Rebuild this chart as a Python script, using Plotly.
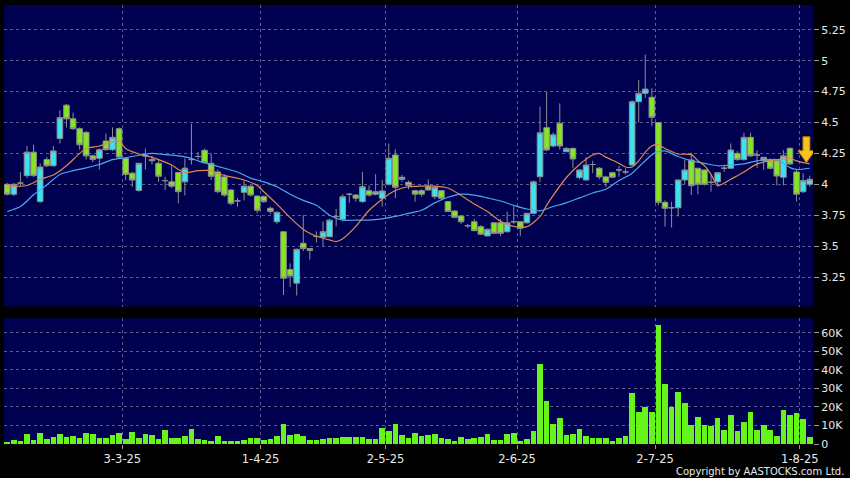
import pandas as pd
import plotly.graph_objects as go

# ---------------- data ----------------
holidays = ['2025-04-04', '2025-04-18', '2025-04-21', '2025-05-01', '2025-05-05', '2025-07-01']
dates = pd.bdate_range('2025-02-05', '2025-08-04', freq='C', holidays=holidays)

open_ = [4.00, 3.92, 4.01, 4.07, 4.26, 3.86, 4.20, 4.15, 4.37, 4.64,
         4.53, 4.45, 4.42, 4.23, 4.21, 4.35, 4.28, 4.45, 4.21, 4.09,
         3.95, 4.23, 4.19, 4.17, 4.03, 4.02, 4.095, 4.02, 4.20, 4.225,
         4.275, 4.17, 4.10, 4.06, 3.954, 3.866, 3.935, 3.985, 3.905, 3.90,
         3.806, 3.697, 3.616, 3.31, 3.20, 3.523, 3.48, 3.578, 3.571, 3.576,
         3.74, 3.717, 3.919, 3.913, 3.86, 3.948, 3.92, 3.887, 4.00, 4.237,
         4.04, 4.016, 3.948, 3.948, 3.98, 3.90, 3.948, 3.86, 3.784, 3.744,
         3.665, 3.697, 3.657, 3.582, 3.689, 3.689, 3.616, 3.697, 3.697, 3.689,
         3.765, 4.061, 4.458, 4.31, 4.493, 4.264, 4.29, 4.054, 4.035, 4.16,
         4.13, 4.06, 4.094, 4.116, 4.10, 4.156, 4.668, 4.736, 4.704, 4.50,
         3.854, 3.81, 3.81, 4.035, 4.197, 4.13, 4.116, 4.016, 4.02, 4.13,
         4.13, 4.25, 4.20, 4.38, 4.237, 4.191, 4.20, 4.19, 4.057, 4.291,
         4.10, 3.94, 4.00]
close = [3.92, 4.00, 4.01, 4.26, 4.07, 4.14, 4.15, 4.27, 4.54, 4.53,
         4.45, 4.32, 4.23, 4.20, 4.28, 4.28, 4.38, 4.22, 4.08, 4.035,
         4.17, 4.23, 4.20, 4.065, 4.03, 3.985, 3.94, 4.13, 4.20, 4.225,
         4.175, 4.065, 3.94, 3.913, 3.846, 3.866, 3.985, 3.913, 3.79, 3.86,
         3.78, 3.773, 3.24, 3.258, 3.474, 3.48, 3.465, 3.578, 3.616, 3.71,
         3.74, 3.90, 3.919, 3.887, 3.98, 3.913, 3.94, 3.946, 4.21, 3.976,
         4.057, 3.99, 3.92, 3.92, 3.954, 3.976, 3.887, 3.78, 3.733, 3.697,
         3.665, 3.625, 3.596, 3.636, 3.603, 3.603, 3.689, 3.697, 3.644, 3.765,
         4.02, 4.417, 4.278, 4.40, 4.31, 4.29, 4.205, 4.116, 4.156, 4.16,
         4.06, 4.016, 4.057, 4.116, 4.10, 4.668, 4.736, 4.77, 4.542, 3.854,
         3.806, 3.81, 4.035, 4.116, 3.989, 4.00, 4.00, 4.016, 4.094, 4.13,
         4.277, 4.20, 4.38, 4.23, 4.237, 4.218, 4.13, 4.067, 4.23, 4.164,
         3.92, 4.03, 4.04]
high = [4.01, 4.01, 4.10, 4.31, 4.32, 4.17, 4.22, 4.31, 4.60, 4.65,
        4.58, 4.46, 4.43, 4.24, 4.29, 4.41, 4.46, 4.46, 4.22, 4.10,
        4.17, 4.29, 4.23, 4.20, 4.06, 4.155, 4.10, 4.21, 4.49, 4.26,
        4.29, 4.25, 4.12, 4.08, 3.96, 3.89, 4.03, 3.99, 3.91, 3.91,
        3.82, 3.78, 3.62, 3.36, 3.48, 3.75, 3.48, 3.62, 3.70, 3.72,
        3.80, 3.92, 3.93, 3.92, 4.10, 3.99, 4.083, 4.035, 4.33, 4.283,
        4.075, 4.03, 3.955, 3.96, 4.04, 3.98, 3.95, 3.86, 3.79, 3.75,
        3.68, 3.72, 3.67, 3.64, 3.69, 3.72, 3.78, 3.82, 3.70, 3.77,
        4.03, 4.628, 4.749, 4.42, 4.655, 4.30, 4.30, 4.12, 4.22, 4.19,
        4.14, 4.07, 4.10, 4.15, 4.13, 4.68, 4.844, 5.05, 4.777, 4.50,
        3.87, 3.86, 4.04, 4.20, 4.256, 4.13, 4.12, 4.08, 4.095, 4.16,
        4.33, 4.27, 4.417, 4.417, 4.277, 4.22, 4.21, 4.19, 4.277, 4.30,
        4.12, 4.09, 4.07]
low = [3.91, 3.905, 3.985, 4.05, 4.06, 3.85, 4.14, 4.14, 4.33, 4.46,
       4.44, 4.28, 4.20, 4.18, 4.12, 4.27, 4.27, 4.21, 4.035, 3.98,
       3.94, 4.12, 4.16, 4.02, 3.955, 3.97, 3.846, 3.91, 4.16, 4.20,
       4.17, 4.035, 3.93, 3.90, 3.83, 3.82, 3.87, 3.90, 3.765, 3.85,
       3.76, 3.68, 3.104, 3.17, 3.10, 3.46, 3.39, 3.53, 3.50, 3.57,
       3.66, 3.70, 3.85, 3.86, 3.85, 3.90, 3.91, 3.82, 3.99, 3.887,
       4.02, 3.96, 3.86, 3.90, 3.95, 3.88, 3.87, 3.78, 3.725, 3.68,
       3.645, 3.62, 3.59, 3.58, 3.60, 3.58, 3.61, 3.68, 3.58, 3.68,
       3.76, 4.02, 4.27, 4.30, 4.28, 4.26, 4.13, 4.04, 4.03, 4.09,
       4.04, 3.98, 4.05, 4.06, 4.08, 4.15, 4.50, 4.70, 4.47, 3.83,
       3.657, 3.65, 3.74, 4.00, 3.913, 3.92, 3.99, 3.94, 3.98, 4.10,
       4.13, 4.19, 4.19, 4.22, 4.13, 4.116, 4.12, 3.99, 3.99, 4.16,
       3.86, 3.93, 3.98]
volume_k = [1.0, 1.9, 1.3, 5.1, 1.9, 5.5, 2.3, 3.7, 5.1, 3.7,
            4.0, 3.1, 5.7, 5.0, 3.3, 3.3, 4.6, 6.0, 2.3, 6.2,
            2.8, 5.1, 4.6, 2.3, 7.3, 3.3, 3.3, 4.0, 7.8, 2.4,
            1.9, 1.2, 3.9, 1.7, 1.3, 1.3, 1.9, 3.1, 3.3, 1.9,
            2.4, 3.9, 10.5, 4.6, 5.3, 3.9, 2.1, 2.1, 2.6, 3.3,
            3.3, 3.7, 3.7, 3.5, 3.5, 2.6, 2.6, 8.5, 6.9, 10.5,
            4.6, 3.1, 5.5, 4.0, 4.6, 5.1, 3.1, 2.6, 1.5, 3.7,
            2.4, 3.0, 3.7, 5.0, 1.9, 1.9, 5.3, 5.8, 1.5, 2.3,
            6.7, 42.9, 23.1, 10.5, 13.6, 4.6, 5.1, 8.0, 4.2, 3.3,
            3.3, 3.1, 1.7, 3.1, 4.0, 27.1, 17.0, 19.8, 17.3, 63.9,
            32.4, 19.8, 27.8, 21.7, 10.1, 14.4, 10.0, 9.4, 13.7, 7.6,
            15.4, 6.9, 11.8, 17.0, 7.6, 10.1, 7.6, 4.2, 18.4, 15.7,
            16.6, 13.4, 3.7]

# moving-average lines (candle index, price)
ma_short_idx = [0, 3, 5, 7, 9, 11, 12, 14, 16, 17, 18, 20, 22, 23, 25, 26, 27, 29, 31, 32,
                34, 36, 38, 39, 41, 43, 45, 47, 49, 50, 51, 53, 55, 57, 58, 59, 61, 63, 65, 67,
                69, 71, 73, 75, 77, 79, 81, 82, 83, 85, 87, 89, 90, 91, 93, 94, 95, 96, 97, 98,
                99, 100, 102, 104, 105, 106, 107, 108, 109, 110, 112, 114, 116, 118, 119, 120, 122]
ma_short_val = [3.98, 3.99, 4.04, 4.075, 4.15, 4.25, 4.29, 4.31, 4.345, 4.35, 4.29, 4.245, 4.218, 4.20, 4.156, 4.12, 4.095, 4.11, 4.11, 4.085,
                4.06, 4.035, 3.99, 3.94, 3.84, 3.73, 3.635, 3.58, 3.55, 3.537, 3.56, 3.66, 3.79, 3.88, 3.92, 3.95, 3.98, 3.986, 3.986, 3.97,
                3.91, 3.84, 3.78, 3.70, 3.66, 3.657, 3.74, 3.83, 3.91, 4.055, 4.16, 4.237, 4.25, 4.22, 4.17, 4.14, 4.14, 4.19, 4.26, 4.31,
                4.32, 4.29, 4.245, 4.24, 4.19, 4.15, 4.08, 3.99, 4.01, 4.04, 4.10, 4.165, 4.19, 4.205, 4.21, 4.19, 4.165]
ma_long_idx = [0, 2, 4, 6, 8, 10, 12, 14, 16, 18, 20, 22, 24, 26, 28, 29, 31, 33, 35, 37,
               39, 41, 43, 45, 47, 49, 51, 53, 55, 57, 59, 61, 63, 65, 67, 69, 71, 73, 75, 77,
               79, 81, 83, 85, 87, 89, 91, 93, 95, 96, 97, 98, 99, 100, 102, 104, 106, 108, 110, 112,
               114, 116, 117, 118, 119, 120, 122]
ma_long_val = [3.78, 3.82, 3.915, 3.995, 4.08, 4.11, 4.133, 4.16, 4.20, 4.215, 4.235, 4.25, 4.24, 4.23, 4.21, 4.19, 4.16, 4.13, 4.10, 4.05,
               4.02, 3.98, 3.92, 3.87, 3.83, 3.75, 3.71, 3.71, 3.71, 3.72, 3.74, 3.765, 3.79, 3.85, 3.895, 3.92, 3.913, 3.89, 3.865, 3.83,
               3.80, 3.785, 3.82, 3.85, 3.89, 3.93, 3.96, 4.03, 4.09, 4.14, 4.19, 4.24, 4.265, 4.27, 4.225, 4.19, 4.17, 4.15, 4.155, 4.165,
               4.19, 4.20, 4.20, 4.17, 4.135, 4.12, 4.13]

tick_dates = ['2025-03-03', '2025-04-01', '2025-05-02', '2025-06-02', '2025-07-02', '2025-08-01']
tick_text = ['3-3-25', '1-4-25', '2-5-25', '2-6-25', '2-7-25', '1-8-25']
price_ticks = [3.25, 3.5, 3.75, 4.0, 4.25, 4.5, 4.75, 5.0, 5.25]
price_tick_text = ['3.25', '3.5', '3.75', '4', '4.25', '4.5', '4.75', '5', '5.25']
vol_ticks = [0, 10000, 20000, 30000, 40000, 50000, 60000]
vol_tick_text = ['0', '10K', '20K', '30K', '40K', '50K', '60K']

# ---------------- styling ----------------
BG = '#000000'
PLOT_BG = '#000050'
GRID = '#5c5c8e'
UP = '#3ce2f0'
DOWN = '#84e622'
WICK = '#8e8e8e'
VOL = '#66f51a'
MA_S = '#e0884e'
MA_L = '#4aa8f0'
TXT = '#e8e8e8'
FONT = 'DejaVu Sans'

idx = list(range(len(dates)))
pos = {d: i for i, d in enumerate(dates.strftime('%Y-%m-%d'))}
grid_x = [pos[d] - 0.5 for d in tick_dates]

fig = go.Figure()
fig.add_trace(go.Candlestick(
    x=idx, open=open_, high=high, low=low, close=close,
    increasing=dict(fillcolor=UP, line=dict(color=WICK, width=1)),
    decreasing=dict(fillcolor=DOWN, line=dict(color=WICK, width=1)),
    xaxis='x', yaxis='y', hoverinfo='skip'))
fig.add_trace(go.Scatter(x=ma_long_idx, y=ma_long_val, mode='lines',
                         line=dict(color=MA_L, width=1.2, shape='spline', smoothing=0.7),
                         xaxis='x', yaxis='y', hoverinfo='skip'))
fig.add_trace(go.Scatter(x=ma_short_idx, y=ma_short_val, mode='lines',
                         line=dict(color=MA_S, width=1.2, shape='spline', smoothing=0.7),
                         xaxis='x', yaxis='y', hoverinfo='skip'))
fig.add_trace(go.Bar(x=idx, y=[v * 1000 for v in volume_k], width=0.86,
                     marker=dict(color=VOL, line=dict(width=0)),
                     xaxis='x2', yaxis='y2', hoverinfo='skip'))

# down arrow marker pointing at the last short-MA value
fig.add_shape(type='path', xref='x', yref='y', xsizemode='pixel', ysizemode='pixel',
              xanchor=idx[-1] - 0.5, yanchor=ma_short_val[-1] + 0.01,
              path='M -3.5,26 L 3.5,26 L 3.5,12 L 8.5,12 L 0,0 L -8.5,12 L -3.5,12 Z',
              fillcolor='#f6c21c', line=dict(color='#a87612', width=1), layer='above')

fig.add_annotation(text='Copyright by AASTOCKS.com Ltd.', xref='paper', yref='paper',
                   x=1.0404, y=-0.063, xanchor='right', yanchor='middle', showarrow=False,
                   font=dict(family=FONT, size=10, color=TXT))

axis_common = dict(range=[-0.5, len(idx) - 0.5], tickvals=grid_x, showgrid=True,
                   gridcolor=GRID, griddash='3px,3px', gridwidth=1, zeroline=False,
                   showline=False, fixedrange=True)

fig.update_layout(
    width=850, height=478,
    paper_bgcolor=BG, plot_bgcolor=PLOT_BG,
    margin=dict(l=4, r=37, t=5, b=34, autoexpand=False),
    showlegend=False, boxgap=0.15, boxgroupgap=0, bargap=0,
    font=dict(family=FONT, size=11, color=TXT),
    xaxis=dict(domain=[0, 1], anchor='y', showticklabels=False, ticks='',
               rangeslider=dict(visible=False), **axis_common),
    xaxis2=dict(domain=[0, 1], anchor='y2', matches='x', ticktext=tick_text,
                ticks='outside', ticklen=4, tickcolor='#9a9a9a',
                tickfont=dict(family=FONT, size=11.5, color=TXT), **axis_common),
    yaxis=dict(domain=[0.3132, 1], anchor='x', side='right', range=[3.0113, 5.4506],
               tickvals=price_ticks, ticktext=price_tick_text, showgrid=True,
               gridcolor=GRID, griddash='3px,3px', zeroline=False, ticks='outside',
               ticklen=5, tickcolor='#9a9a9a', tickfont=dict(family=FONT, size=11, color=TXT),
               fixedrange=True),
    yaxis2=dict(domain=[0, 0.2863], anchor='x2', side='right', range=[0, 67760],
                tickvals=vol_ticks, ticktext=vol_tick_text, showgrid=True,
                gridcolor=GRID, griddash='3px,3px', zeroline=False, ticks='outside',
                ticklen=5, tickcolor='#9a9a9a', tickfont=dict(family=FONT, size=11, color=TXT),
                fixedrange=True),
)

fig.write_html('out.html', config={'displayModeBar': False},
               post_script="document.body.style.margin='0';document.body.style.padding='0';"
                           "document.body.style.background='#000';")
